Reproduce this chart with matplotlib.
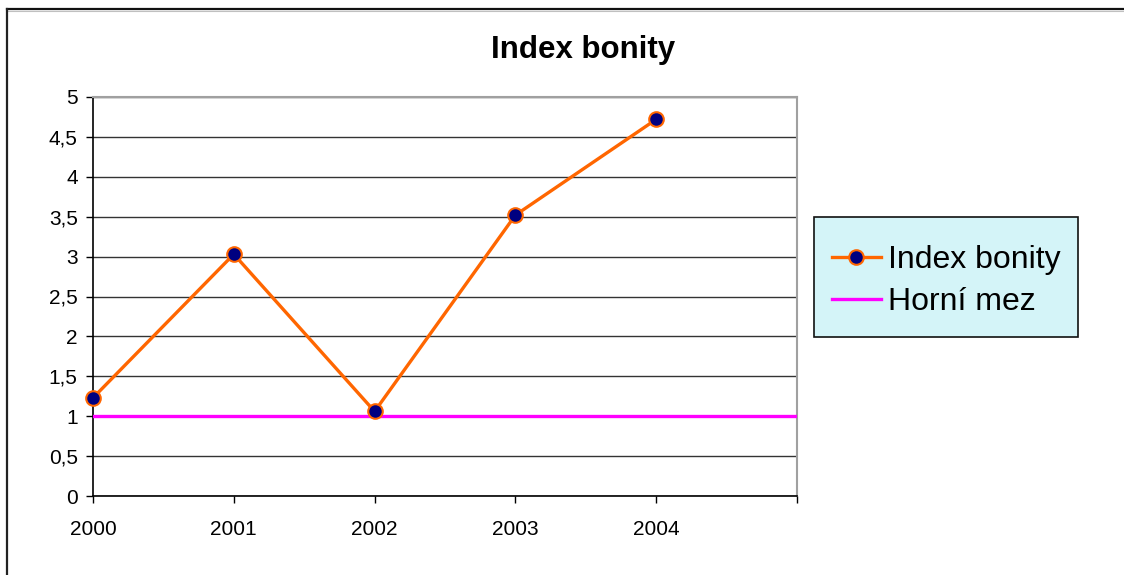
import matplotlib
matplotlib.use("Agg")
import matplotlib.pyplot as plt
from matplotlib.lines import Line2D
from matplotlib.patches import Rectangle

plt.rcParams['font.family'] = ['Liberation Sans', 'DejaVu Sans']

# Data
years = [2000, 2001, 2002, 2003, 2004]
index_bonity = [1.23, 3.03, 1.06, 3.52, 4.72]
upper_limit = 1.0
year_labels = ['2000', '2001', '2002', '2003', '2004', '']
y_ticks = [0, 0.5, 1, 1.5, 2, 2.5, 3, 3.5, 4, 4.5, 5]
y_labels = ['0', '0,5', '1', '1,5', '2', '2,5', '3', '3,5', '4', '4,5', '5']

W, H = 1124, 575
fig = plt.figure(figsize=(W / 100, H / 100), dpi=100)
fig.patch.set_facecolor('white')

# outer chart frame (top and left edges)
fig.add_artist(Line2D([7 / W, 1.0], [1 - 9 / H, 1 - 9 / H], color='#111111', lw=1.6,
                      transform=fig.transFigure))
fig.add_artist(Line2D([7 / W, 1.0], [1 - 11 / H, 1 - 11 / H], color='#c0c0c0', lw=0.8,
                      transform=fig.transFigure))
fig.add_artist(Line2D([7 / W, 7 / W], [0.0, 1 - 9 / H], color='#222222', lw=1.6,
                      transform=fig.transFigure))

ax = fig.add_axes([93 / W, 1 - 496 / H, 704 / W, 399 / H])
ax.set_xlim(2000, 2005)
ax.set_ylim(0, 5)

ax.set_yticks(y_ticks)
ax.set_yticklabels(y_labels)
ax.set_xticks(list(range(2000, 2006)))
ax.set_xticklabels(year_labels)
ax.tick_params(axis='both', direction='out', length=5, width=1, color='black',
               labelsize=15, labelcolor='black')
ax.tick_params(axis='x', pad=12)
ax.tick_params(axis='y', pad=6)

ax.grid(axis='y', color='#333333', lw=1)
ax.set_axisbelow(True)
for s in ['left', 'bottom']:
    ax.spines[s].set_color('black')
    ax.spines[s].set_linewidth(1.2)
for s in ['top', 'right']:
    ax.spines[s].set_color('#a0a0a0')
    ax.spines[s].set_linewidth(1.5)

ax.axhline(upper_limit, color='#ff00ff', lw=2.4, label='Horní mez', zorder=3)
ax.plot(years, index_bonity, color='#ff6600', lw=2.4, marker='o', markersize=10.5,
        markerfacecolor='#000080', markeredgecolor='#ff6600', markeredgewidth=1.5,
        label='Index bonity', zorder=4, clip_on=False)

fig.text(583 / W, 1 - 50 / H, 'Index bonity', ha='center', va='center',
         fontsize=22.5, fontweight='bold')

# legend box
lx0, ly0, lx1, ly1 = 814, 217, 1078, 337
fig.add_artist(Rectangle((lx0 / W, 1 - ly1 / H), (lx1 - lx0) / W, (ly1 - ly0) / H,
                         transform=fig.transFigure, facecolor='#d4f4f8',
                         edgecolor='#111111', lw=1.2, zorder=1))
handles, labels = ax.get_legend_handles_labels()
leg = fig.legend(handles[::-1], labels[::-1], loc='center',
                 bbox_to_anchor=((lx0 + lx1) / 2 / W, 1 - 281 / H), borderaxespad=0,
                 fontsize=23, frameon=False, handlelength=1.55,
                 handletextpad=0.2, borderpad=0, labelspacing=0.38)
leg.set_zorder(2)

fig.savefig('out.png', dpi=100, facecolor='white')
